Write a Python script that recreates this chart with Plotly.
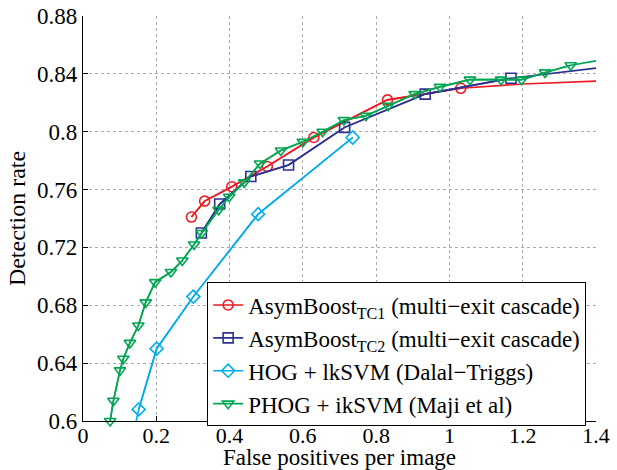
import plotly.graph_objects as go

# ROC-style curves: detection rate vs false positives per image
tc1_fp = [0.296, 0.332, 0.406, 0.503, 0.630, 0.831, 1.031]
tc1_dr = [0.741, 0.752, 0.762, 0.776, 0.796, 0.822, 0.830]
tc1_tail_fp = [1.2, 1.4]
tc1_tail_dr = [0.833, 0.835]

tc2_fp = [0.323, 0.373, 0.458, 0.561, 0.714, 0.934, 1.168]
tc2_dr = [0.730, 0.750, 0.769, 0.777, 0.803, 0.826, 0.837]
tc2_tail_fp = [1.4]
tc2_tail_dr = [0.844]

hog_head_fp = [0.145]
hog_head_dr = [0.600]
hog_fp = [0.152, 0.201, 0.301, 0.478, 0.736]
hog_dr = [0.608, 0.650, 0.686, 0.743, 0.796]

phog_fp = [0.074, 0.083, 0.101, 0.110, 0.128, 0.151, 0.171, 0.197, 0.240, 0.271,
           0.303, 0.324, 0.370, 0.399, 0.440, 0.483, 0.540, 0.600, 0.654, 0.712,
           0.772, 0.833, 0.905, 0.974, 1.056, 1.141, 1.197, 1.261, 1.331]
phog_dr = [0.600, 0.614, 0.635, 0.643, 0.654, 0.666, 0.682, 0.696, 0.703, 0.711,
           0.722, 0.730, 0.746, 0.755, 0.765, 0.778, 0.787, 0.793, 0.800, 0.808,
           0.811, 0.818, 0.826, 0.831, 0.836, 0.836, 0.836, 0.841, 0.846]
phog_tail_fp = [1.4]
phog_tail_dr = [0.849]

x_ticks = [0, 0.2, 0.4, 0.6, 0.8, 1.0, 1.2, 1.4]
x_labels = ["0", "0.2", "0.4", "0.6", "0.8", "1", "1.2", "1.4"]
y_ticks = [0.6, 0.64, 0.68, 0.72, 0.76, 0.8, 0.84, 0.88]
y_labels = ["0.6", "0.64", "0.68", "0.72", "0.76", "0.8", "0.84", "0.88"]

series = [
    dict(name="AsymBoost<sub>TC1</sub> (multi\u2212exit cascade)", color="#ed1c24",
         symbol="circle-open", head=([], []), fp=tc1_fp, dr=tc1_dr,
         tail=(tc1_tail_fp, tc1_tail_dr)),
    dict(name="AsymBoost<sub>TC2</sub> (multi\u2212exit cascade)", color="#2e3192",
         symbol="square-open", head=([], []), fp=tc2_fp, dr=tc2_dr,
         tail=(tc2_tail_fp, tc2_tail_dr)),
    dict(name="HOG + lkSVM (Dalal\u2212Triggs)", color="#00aeef",
         symbol="diamond-open", head=(hog_head_fp, hog_head_dr), fp=hog_fp, dr=hog_dr,
         tail=([], [])),
    dict(name="PHOG + ikSVM (Maji et al)", color="#00a651",
         symbol="triangle-down-open", head=([], []), fp=phog_fp, dr=phog_dr,
         tail=(phog_tail_fp, phog_tail_dr)),
]

fig = go.Figure()
for i, s in enumerate(series):
    grp = "g%d" % i
    line_x = list(s["head"][0]) + s["fp"] + list(s["tail"][0])
    line_y = list(s["head"][1]) + s["dr"] + list(s["tail"][1])
    # full curve (including unmarked end segments)
    fig.add_trace(go.Scatter(
        x=line_x, y=line_y, mode="lines", legendgroup=grp, showlegend=False,
        line=dict(color=s["color"], width=1.6), hoverinfo="skip", cliponaxis=True))
    # marked points
    fig.add_trace(go.Scatter(
        x=s["fp"], y=s["dr"], mode="lines+markers", name=s["name"], legendgroup=grp,
        line=dict(color=s["color"], width=1.6),
        marker=dict(symbol=s["symbol"], size=10, color=s["color"],
                    line=dict(width=1.6, color=s["color"])),
        cliponaxis=False))

font_family = "Liberation Serif"

fig.update_layout(
    width=617, height=470,
    margin=dict(l=83, r=21, t=16, b=49, autoexpand=False),
    paper_bgcolor="white", plot_bgcolor="white",
    font=dict(family=font_family, size=23, color="black"),
    showlegend=True,
    legend=dict(x=0.242, y=0.342, xanchor="left", yanchor="top",
                bgcolor="white", bordercolor="black", borderwidth=1,
                font=dict(family=font_family, size=23, color="black"),
                tracegroupgap=0, itemwidth=30),
    xaxis=dict(range=[0, 1.4], tickvals=x_ticks, ticktext=x_labels,
               automargin=False, ticklabelstandoff=-6,
               showgrid=True, gridcolor="#aaaaaa", griddash="dot", gridwidth=1,
               zeroline=False, showline=True, linecolor="black", linewidth=1.2,
               ticks="inside", ticklen=5, tickcolor="black",
               tickfont=dict(family=font_family, size=22),
               title=dict(text="False positives per image", standoff=3,
                          font=dict(family=font_family, size=23))),
    yaxis=dict(range=[0.6, 0.88], tickvals=y_ticks, ticktext=y_labels,
               automargin=False,
               showgrid=True, gridcolor="#aaaaaa", griddash="dot", gridwidth=1,
               zeroline=False, showline=True, linecolor="black", linewidth=1.2,
               ticks="inside", ticklen=5, tickcolor="black",
               tickfont=dict(family=font_family, size=23),
               title=dict(text="Detection rate", standoff=4,
                          font=dict(family=font_family, size=24))),
)

fig.write_html("out.html")
